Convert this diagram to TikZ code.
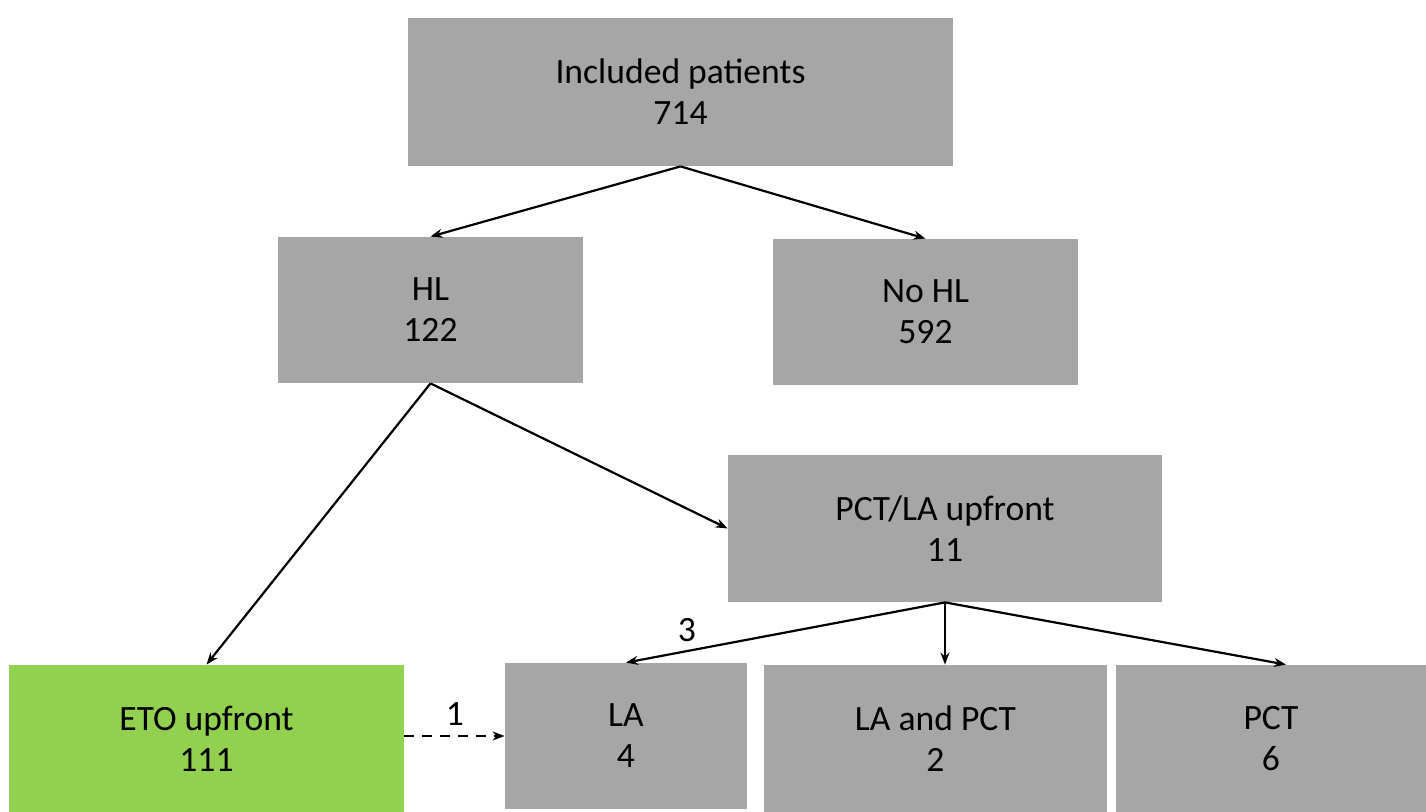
\documentclass[tikz,border=0pt]{standalone}
\usepackage{fontspec}
\setmainfont{Carlito}
\usetikzlibrary{arrows.meta,calc}
\definecolor{boxgray}{HTML}{A6A6A6}
\definecolor{boxgreen}{HTML}{92D050}
\begin{document}
\begin{tikzpicture}[x=0.5pt,y=-0.5pt,
  box/.style={rectangle,fill=boxgray,draw=none,align=center,inner sep=0pt,
    font=\fontsize{17.8pt}{20.5pt}\selectfont},
  conn/.style={line width=1.1pt,-{Stealth[length=6pt,width=4.5pt]}},
  lbl/.style={font=\fontsize{17.8pt}{20pt}\selectfont,inner sep=0pt}]
\useasboundingbox (0,0) rectangle (1426,812);
\node[box,minimum width=272.5pt,minimum height=74pt] (inc) at (680.5,92) {Included patients\\714};
\node[box,minimum width=152.5pt,minimum height=73pt] (hl) at (430.5,310) {HL\\122};
\node[box,minimum width=152.5pt,minimum height=73pt] (nohl) at (925.5,312) {No HL\\592};
\node[box,minimum width=217pt,minimum height=73.5pt] (pcla) at (945,528.5) {PCT/LA upfront\\11};
\node[box,fill=boxgreen,minimum width=197.5pt,minimum height=73.5pt] (eto) at (206.5,738.5) {ETO upfront\\111};
\node[box,minimum width=121pt,minimum height=73pt] (la) at (626,736) {LA\\4};
\node[box,minimum width=171.5pt,minimum height=73.5pt] (lap) at (935.5,738.5) {LA and PCT\\2};
\node[box,minimum width=155pt,minimum height=73.5pt] (pct) at (1271,738.5) {PCT\\6};
\coordinate (pcttop) at ($(pct.north)+(15,0)$);
\draw[conn] (inc.south) -- (hl.north);
\draw[conn] (inc.south) -- (nohl.north);
\draw[conn] (hl.south) -- (eto.north);
\draw[conn] (hl.south) -- (pcla.west);
\draw[conn] (pcla.south) -- (la.north);
\draw[conn] (pcla.south) -- (pcla.south |- lap.north);
\draw[conn] (pcla.south) -- (pcttop);
\draw[conn,dashed,dash pattern=on 5pt off 4pt] (eto.east |- la.center) -- (la.west);
\node[lbl] (one) at (455,714) {1};
\node[lbl] (three) at (687,630) {3};
\end{tikzpicture}
\end{document}
